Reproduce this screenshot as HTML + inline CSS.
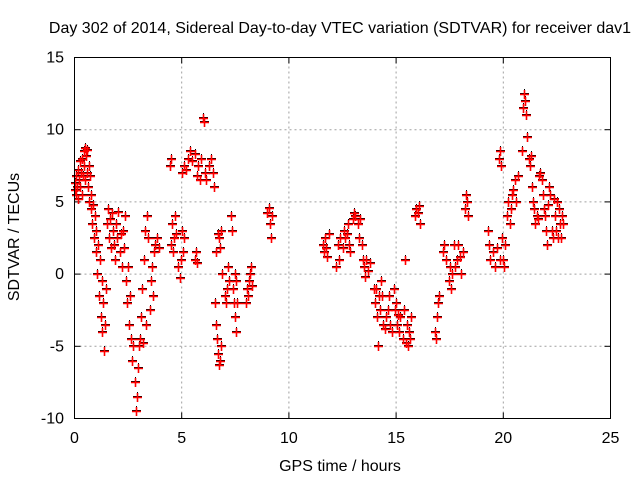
<!DOCTYPE html>
<html><head><meta charset="utf-8"><style>
body{margin:0;background:#fff;}
svg{display:block;font-family:"Liberation Sans",sans-serif;}
</style></head><body>
<svg id="chart" width="640" height="480" viewBox="0 0 640 480">
<text x="340" y="33" font-size="16" text-anchor="middle">Day 302 of 2014, Sidereal Day-to-day VTEC variation (SDTVAR) for receiver dav1</text>
<text transform="translate(19,237) rotate(-90)" font-size="16" text-anchor="middle">SDTVAR / TECUs</text>
<text x="340" y="471" font-size="16" text-anchor="middle">GPS time / hours</text>
<g id="grid"></g>
<g id="ticks"></g>
<g id="marks"></g>
<rect x="74.5" y="57.5" width="536" height="361" fill="none" stroke="#000" stroke-width="1"/>
</svg>
<script>
const xTicks=[0,5,10,15,20,25];
const yTicks=[-10,-5,0,5,10,15];
const hours=[0.00,0.03,0.06,0.09,0.12,0.15,0.18,0.21,0.24,0.27,0.30,0.33,0.36,0.39,0.42,0.45,0.48,0.51,0.54,0.57,0.60,0.63,0.66,0.69,0.72,0.75,0.78,
0.82,0.86,0.9,0.94,0.98,1.02,1.06,1.1,1.14,1.18,1.22,1.26,1.3,1.34,1.38,1.42,1.46,
1.5,1.55,1.6,1.65,1.7,1.75,1.8,1.85,1.9,1.95,2.0,2.05,2.1,2.15,2.2,2.25,2.3,2.35,2.4,
2.45,2.5,2.55,2.6,2.65,2.7,2.75,2.8,2.85,2.9,2.95,3.0,
3.05,3.1,3.15,3.2,3.25,3.3,3.35,3.4,3.45,3.5,3.55,3.6,3.65,3.7,3.75,3.85,3.95,
4.5,4.45,4.5,4.55,4.6,4.65,4.7,4.75,4.85,4.9,4.95,5.0,5.05,5.1,5.0,5.1,5.2,5.3,5.4,5.5,5.6,5.7,5.75,5.85,5.9,5.6,5.65,5.7,
6.0,6.05,6.1,6.15,6.25,6.35,6.45,6.5,
6.55,6.6,6.65,6.7,6.75,6.8,6.85,6.6,6.7,6.75,6.8,6.85,6.9,
7.0,7.05,7.1,7.15,7.2,7.3,7.35,7.4,7.45,7.5,7.55,7.6,7.5,7.55,
8.0,8.05,8.1,8.15,8.2,8.25,8.3,
9.0,9.05,9.1,9.15,9.2,
11.6,11.65,11.7,11.75,11.8,11.85,12.2,12.3,12.35,12.4,12.5,12.55,12.6,12.7,12.75,12.8,12.85,
13.0,13.05,13.1,13.2,13.25,13.3,13.4,13.45,13.5,13.55,13.6,13.7,13.8,
13.95,14.0,14.05,14.1,14.15,14.2,14.25,14.3,14.35,14.4,14.5,14.55,14.6,14.65,14.7,14.8,14.9,14.95,15.0,15.05,15.1,15.15,15.2,15.3,15.35,15.4,15.45,15.5,15.55,15.6,15.65,15.7,
15.9,15.95,16.0,16.05,16.1,
16.8,16.85,16.9,16.95,17.0,
17.2,17.25,17.35,17.45,17.5,17.55,17.6,17.7,17.75,17.85,17.9,18.0,18.05,18.1,18.2,18.25,18.3,18.35,
19.3,19.35,19.4,19.5,19.6,19.7,19.8,19.85,19.9,19.85,19.95,20.0,20.05,20.1,20.15,20.2,20.3,20.35,20.4,20.45,20.55,20.6,20.7,
20.85,20.9,20.95,21.0,21.05,21.1,21.2,21.25,21.3,21.35,21.4,21.45,21.5,21.55,21.6,21.65,21.7,
21.8,21.85,21.9,21.95,22.0,22.05,22.1,22.15,22.2,22.25,22.3,22.35,22.4,22.45,22.5,22.55,22.6,22.65,22.7,22.75,22.8];
const sdtvar=[5.8,6.3,5.5,6.8,6.0,7.2,5.2,6.5,7.8,6.0,7.0,5.5,8.0,6.8,8.5,7.5,8.7,6.5,8.2,7.0,8.6,6.0,7.5,5.0,6.8,4.5,5.5,
3.5,4.8,2.5,4.0,1.5,3.0,0.0,2.0,-1.5,1.0,-3.0,-0.5,-4.0,-2.0,-5.3,-3.5,-1.0,
3.5,4.5,2.5,3.8,1.8,4.2,3.0,2.0,1.0,3.5,2.5,4.3,1.5,2.8,0.5,3.0,1.8,4.0,-0.5,
-2.0,0.5,-3.5,-1.5,-4.5,-6.0,-5.0,-7.5,-9.5,-8.5,-6.5,-5.0,
-4.5,-3.0,-1.0,-4.8,1.0,3.0,-3.5,4.0,2.5,-2.5,-0.5,0.5,-1.5,1.5,2.0,2.5,1.8,
8.0,7.5,2.0,3.5,1.5,2.5,4.0,2.8,0.5,-0.3,1.0,3.0,1.5,2.5,7.0,7.5,7.2,8.0,8.5,7.8,8.3,6.8,7.5,6.5,8.0,1.0,1.5,0.8,
10.8,10.5,7.0,6.5,7.5,8.0,7.0,6.0,
-2.0,-3.5,-4.5,-5.5,-6.3,-6.0,-5.0,1.5,2.8,2.5,1.8,3.0,0.0,
-1.5,-2.0,-1.0,0.5,-0.5,4.0,3.0,-1.0,-2.0,-3.0,-4.0,-2.0,0.0,-0.5,
-2.0,-1.0,-1.5,-0.5,0.0,0.5,-0.8,
4.2,4.6,3.5,2.5,4.0,
2.0,1.5,2.5,1.8,1.2,2.8,0.5,2.0,1.0,2.5,1.8,3.0,2.5,2.8,3.5,2.0,1.5,
3.8,4.2,4.0,3.5,2.5,3.8,2.0,1.0,0.5,-0.2,1.0,0.2,0.8,
-1.0,-2.0,-1.0,-3.0,-5.0,-1.5,-2.5,-0.5,-1.5,-3.5,-3.8,-3.0,-2.5,-1.5,-3.5,-4.0,-1.0,-2.5,-2.0,-3.5,-2.8,-4.0,-3.0,-4.5,-2.5,1.0,-4.8,-3.5,-5.0,-4.0,-4.5,-3.0,
4.0,4.5,4.2,4.7,3.5,
-4.0,-4.5,-3.0,-2.0,-1.5,
1.5,2.0,1.0,-0.5,0.5,-1.0,0.0,2.0,0.5,1.0,2.0,1.2,0.0,1.5,4.5,5.5,5.0,4.0,
3.0,2.0,1.0,1.5,0.5,1.8,8.0,8.5,7.5,1.0,2.5,1.0,0.5,2.0,4.0,5.0,3.5,4.5,5.5,5.8,6.5,5.0,6.8,
8.5,11.5,12.5,12.0,11.0,9.5,8.0,7.5,8.2,6.0,5.0,4.5,3.5,4.0,3.8,6.8,7.0,
6.5,5.5,4.5,4.0,3.0,2.0,4.8,6.0,5.5,3.0,2.5,5.2,4.0,3.0,5.0,2.5,4.5,3.5,2.5,4.0,3.5];
const X0=74.5,X1=610.5,Y0=418.5,Y1=57.5;
function sx(h){return X0+(h-0)/(25-0)*(X1-X0);}
function sy(v){return Y0+(v-(-10))/(15-(-10))*(Y1-Y0);}
const NS="http://www.w3.org/2000/svg";
const grid=document.getElementById('grid'),ticks=document.getElementById('ticks'),marks=document.getElementById('marks');
function mk(tag,attrs,parent){const e=document.createElementNS(NS,tag);for(const k in attrs)e.setAttribute(k,attrs[k]);parent.appendChild(e);return e;}
xTicks.forEach(t=>{const x=sx(t);
 if(t>0&&t<25){const g=mk('line',{x1:x,x2:x,y1:Y0,y2:Y1,stroke:'#a0a0a0','stroke-dasharray':'2,3'},grid);
 
 }
 const a=mk('line',{x1:x,x2:x,y1:Y0,y2:Y0-6,stroke:'#000'},ticks);
 
 
 const b=mk('line',{x1:x,x2:x,y1:Y1,y2:Y1+6,stroke:'#000'},ticks);
 
 
 const l=mk('text',{x:x,y:443,'font-size':16,'text-anchor':'middle'},ticks);l.textContent=t;
 
 
});
yTicks.forEach(t=>{const y=sy(t);
 if(t>-10&&t<15){const g=mk('line',{x1:X0,x2:X1,y1:y,y2:y,stroke:'#a0a0a0','stroke-dasharray':'2,3'},grid);
 
 }
 const a=mk('line',{x1:X0,x2:X0+6,y1:y,y2:y,stroke:'#000'},ticks);
 
 
 const b=mk('line',{x1:X1,x2:X1-6,y1:y,y2:y,stroke:'#000'},ticks);
 
 
 const l=mk('text',{x:64,y:y+5,'font-size':16,'text-anchor':'end'},ticks);l.textContent=t;
 
 
});
function plus(x,y,col,w){const p=mk('path',{d:`M${x-4.5} ${y}H${x+4.5}M${x} ${y-4.5}V${y+4.5}`,stroke:col,'stroke-width':w,fill:'none'},marks);return p;}
hours.forEach((h,i)=>{const p=plus(Math.round(sx(h))+0.5,Math.round(sy(sdtvar[i]))-0.5,'#000',1);
 
 });
hours.forEach((h,i)=>{const p=plus(Math.round(sx(h))+0.5,Math.round(sy(sdtvar[i]))+0.5,'#ff0000',1.6);
 
 });
</script>
</body></html>
